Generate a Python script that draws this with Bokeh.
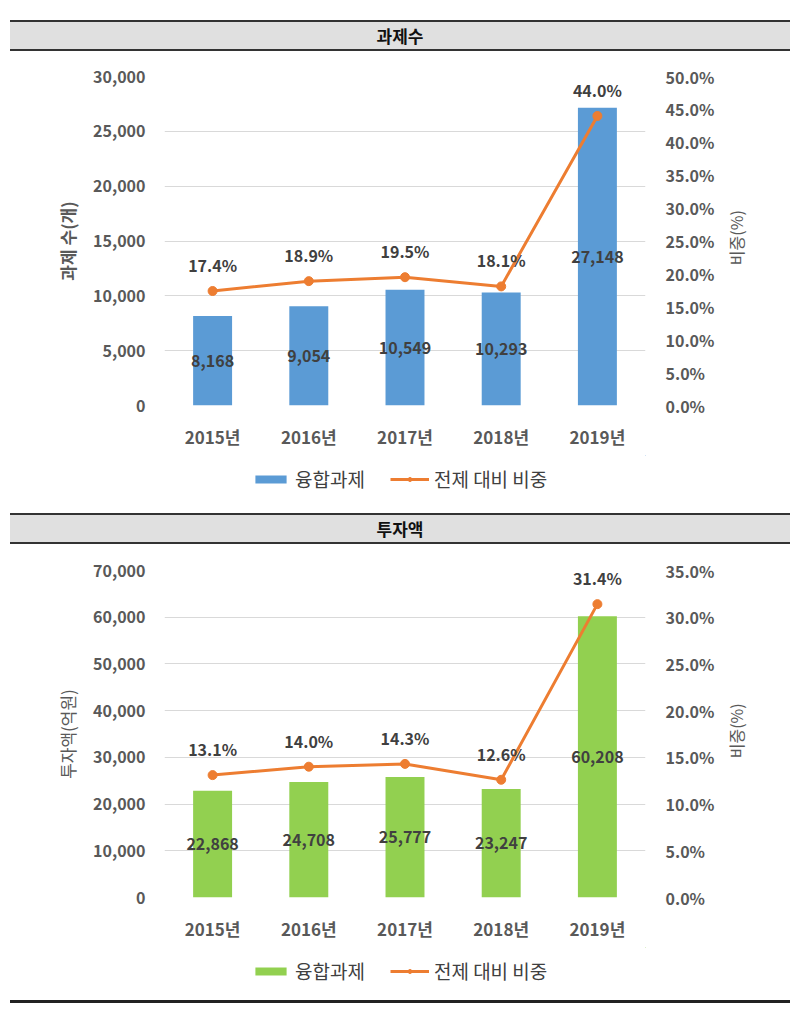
import math
from bokeh.plotting import figure
from bokeh.models import (ColumnDataSource, Range1d, LinearAxis, FixedTicker, NumeralTickFormatter,
                          PrintfTickFormatter, LabelSet, Label, Legend, LegendItem, Div, FactorRange)
from bokeh.layouts import column
from bokeh.core.properties import value
from bokeh.embed import file_html
from bokeh.resources import INLINE

years = ["2015년", "2016년", "2017년", "2018년", "2019년"]
task_counts = [8168, 9054, 10549, 10293, 27148]
task_share = [17.4, 18.9, 19.5, 18.1, 44.0]
invest_amounts = [22868, 24708, 25777, 23247, 60208]
invest_share = [13.1, 14.0, 14.3, 12.6, 31.4]

count_ticks = [0, 5000, 10000, 15000, 20000, 25000, 30000]
count_share_ticks = [0, 5, 10, 15, 20, 25, 30, 35, 40, 45, 50]
invest_ticks = [0, 10000, 20000, 30000, 40000, 50000, 60000, 70000]
invest_share_ticks = [0, 5, 10, 15, 20, 25, 30, 35]

bar_name = "융합과제"
line_name = "전제 대비 비중"

FONT = "Noto Sans CJK KR"
TICK_C = "#595959"
LABEL_C = "#404040"
ORANGE = "#ED7D31"


def make_chart(bars, share, bar_color, yticks, rticks, ylabel, top, frame_h, label_bold):
    src = ColumnDataSource(dict(
        year=years, bar=bars, mid=[b / 2 for b in bars],
        bar_txt=[f"{b:,}" for b in bars],
        share=share, share_txt=[f"{s:.1f}%" for s in share]))
    p = figure(x_range=FactorRange(factors=years, range_padding=0),
               y_range=Range1d(0, yticks[-1]),
               frame_width=481, frame_height=frame_h,
               min_border_left=164, min_border_right=155, min_border_top=top,
               min_border_bottom=50,
               output_backend="svg", toolbar_location=None)
    p.outline_line_color = None
    p.xgrid.grid_line_color = None
    p.ygrid.grid_line_color = "#D9D9D9"
    p.ygrid.grid_line_width = 1
    p.extra_y_ranges = {"pct": Range1d(0, rticks[-1])}

    yax = p.yaxis[0]
    yax.ticker = FixedTicker(ticks=yticks)
    yax.formatter = NumeralTickFormatter(format="0,0")
    yax.axis_label = ylabel
    yax.axis_label_text_font = FONT
    yax.axis_label_text_font_size = "17px"
    yax.axis_label_text_font_style = "bold" if label_bold else "normal"
    yax.axis_label_text_color = TICK_C
    yax.axis_label_standoff = 10

    rax = LinearAxis(y_range_name="pct", ticker=FixedTicker(ticks=rticks),
                     formatter=PrintfTickFormatter(format="%.1f%%"))
    p.add_layout(rax, "right")

    # right-hand axis title, reading bottom-to-top like the left one
    rlabel = Label(x=18, x_units="screen", y=rticks[-1] * 0.51, y_units="data",
                   y_range_name="pct", text="비중(%)", angle=math.pi / 2,
                   text_align="center", text_baseline="middle",
                   text_font=FONT, text_font_size="16px", text_color=TICK_C)
    p.add_layout(rlabel, "right")

    for ax, so in ((yax, 19), (rax, 20)):
        ax.axis_line_color = None
        ax.major_tick_line_color = None
        ax.minor_tick_line_color = None
        ax.major_tick_out = 0
        ax.major_tick_in = 0
        ax.major_label_standoff = so
        ax.major_label_text_font = FONT
        ax.major_label_text_font_size = "16px"
        ax.major_label_text_font_style = "bold"
        ax.major_label_text_color = TICK_C

    xax = p.xaxis[0]
    xax.axis_line_color = None
    xax.major_tick_line_color = None
    xax.minor_tick_line_color = None
    xax.major_tick_out = 0
    xax.major_tick_in = 0
    xax.major_label_standoff = 18
    xax.major_label_text_font = FONT
    xax.major_label_text_font_size = "17px"
    xax.major_label_text_font_style = "bold"
    xax.major_label_text_color = TICK_C

    p.vbar(x="year", top="bar", width=0.405, source=src,
           fill_color=bar_color, line_color=None)
    p.line(x="year", y="share", y_range_name="pct", source=src,
           line_color=ORANGE, line_width=3)
    p.scatter(x="year", y="share", y_range_name="pct", source=src,
              size=9, fill_color=ORANGE, line_color=ORANGE)

    p.add_layout(LabelSet(x="year", y="mid", text="bar_txt", source=src,
                          text_align="center", text_baseline="middle",
                          text_font=value(FONT), text_font_size="16px",
                          text_font_style="bold", text_color=LABEL_C))
    p.add_layout(LabelSet(x="year", y="share", y_range_name="pct", text="share_txt",
                          source=src, y_offset=26,
                          text_align="center", text_baseline="middle",
                          text_font=value(FONT), text_font_size="16px",
                          text_font_style="bold", text_color=LABEL_C))
    return p, src


def make_legend(src, bar_color, height, y_loc):
    # legend strip under the chart; its sample renderers lie entirely outside the visible ranges
    lf = figure(width=800, height=height, x_range=Range1d(-2, -1),
                y_range=Range1d(-2, -1), min_border=0,
                output_backend="svg", toolbar_location=None)
    lf.axis.visible = False
    lf.grid.visible = False
    lf.outline_line_color = None
    b = lf.hbar(y="share", right="bar", height=0.405, source=src,
                fill_color=bar_color, line_color=None)
    ln = lf.line(x="bar", y="share", source=src, line_color=ORANGE, line_width=3)
    dt = lf.scatter(x="bar", y="share", source=src, size=9,
                    fill_color=ORANGE, line_color=ORANGE)
    legend = Legend(items=[LegendItem(label=bar_name, renderers=[b]),
                           LegendItem(label=line_name, renderers=[ln, dt])],
                    orientation="horizontal", location=(87, y_loc),
                    border_line_color=None, background_fill_alpha=0,
                    glyph_width=39, glyph_height=10, label_standoff=5, spacing=25,
                    label_text_font=FONT, label_text_font_size="19px",
                    label_text_color=LABEL_C, padding=0, margin=0)
    lf.add_layout(legend, "center")
    return lf


def header(txt):
    html = ("<div style=\"box-sizing:border-box;margin-left:10px;width:780px;height:31px;"
            "background:#E0E0E0;border-top:2px solid #333;border-bottom:2px solid #333;"
            "text-align:center;line-height:27px;font-family:'Noto Sans CJK KR';"
            f"font-weight:bold;font-size:17px;color:#111;\">{txt}</div>")
    return Div(text=html, width=800, height=31, margin=0)


spacer = Div(text="", width=800, height=20, margin=0)
h1 = header("과제수")
p1, s1 = make_chart(task_counts, task_share, "#5B9BD5", count_ticks, count_share_ticks,
                    "과제 수(개)", 25, 329, True)
l1 = make_legend(s1, "#5B9BD5", 58, 21)
h2 = header("투자액")
p2, s2 = make_chart(invest_amounts, invest_share, "#92D050", invest_ticks, invest_share_ticks,
                    "투자액(억원)", 26, 327, False)
l2 = make_legend(s2, "#92D050", 53, 16)
bottom = Div(text="<div style=\"box-sizing:border-box;margin-left:10px;"
                  "width:780px;height:3px;background:#222;\"></div>",
             width=800, height=4, margin=0,
             styles={"font-size": "0px", "line-height": "0px"})

layout = column(spacer, h1, p1, l1, h2, p2, l2, bottom, spacing=0)
open("out.html", "w").write(file_html(layout, INLINE))
